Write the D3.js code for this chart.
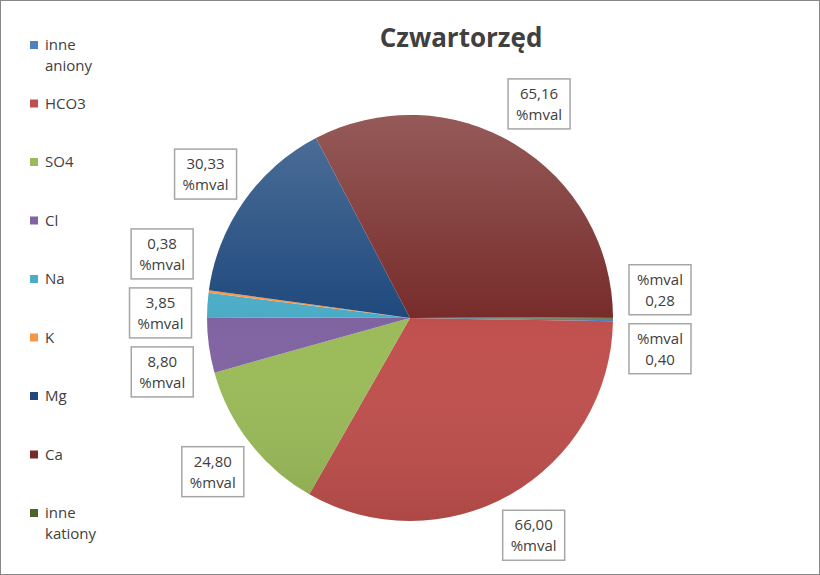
<!DOCTYPE html>
<html><head><meta charset="utf-8">
<script src="https://cdn.jsdelivr.net/npm/d3@7"></script>
<style>body{margin:0;background:#fff}svg{display:block}</style></head>
<body><script>
const categories=["inne aniony","HCO3","SO4","Cl","Na","K","Mg","Ca","inne kationy"];
const values=[0.40,66.00,24.80,8.80,3.85,0.38,30.33,65.16,0.28];
const valueLabels=["0,40","66,00","24,80","8,80","3,85","0,38","30,33","65,16","0,28"];
const colors=["#4f81bd","#c0504d","#9bbb59","#8064a2","#4bacc6","#f79646","#1f497d","#772c2a","#4f6228"];
const legendLines=[["inne","aniony"],["HCO3"],["SO4"],["Cl"],["Na"],["K"],["Mg"],["Ca"],["inne","kationy"]];

const W=820,H=575,cx=410,cy=318,R=203;
const svg=d3.select("body").append("svg").attr("width",W).attr("height",H);
svg.append("rect").attr("x",0.5).attr("y",0.5).attr("width",W-1).attr("height",H-1).attr("fill","#fff").attr("stroke","#888");
const font="'Open Sans','Liberation Sans',sans-serif";
svg.append("text").attr("x",461).attr("y",47).attr("text-anchor","middle").attr("font-family",font)
 .attr("font-size",26).attr("font-weight","bold").attr("fill","#404040").text("Czwartorzęd");

const defs=svg.append("defs");
const g=defs.append("linearGradient").attr("id","shade").attr("x1",0).attr("y1",0).attr("x2",0).attr("y2",1);
g.append("stop").attr("offset","0").attr("stop-color","#fff").attr("stop-opacity",0.22);
g.append("stop").attr("offset","0.5").attr("stop-color","#fff").attr("stop-opacity",0);
g.append("stop").attr("offset","1").attr("stop-color","#000").attr("stop-opacity",0.1);

const start=Math.PI/2+0.004;
const pie=d3.pie().sort(null).value(d=>d).startAngle(start).endAngle(start+2*Math.PI);
const arcs=pie(values);
const arc=d3.arc().innerRadius(0).outerRadius(R);
const pg=svg.append("g").attr("transform",`translate(${cx},${cy})`);
pg.selectAll("path").data(arcs).join("path").attr("d",arc).attr("fill",(d,i)=>colors[i]);
pg.append("circle").attr("r",R).attr("fill","url(#shade)");

// labels
const la=d3.arc().innerRadius(250).outerRadius(250);
let labs=arcs.map((d,i)=>{const c=la.centroid(d);return {i,x:c[0]+cx,y:c[1]+cy,right:c[0]>0};});
for(let it=0;it<100;it++){
 [true,false].forEach(side=>{
  const s=labs.filter(l=>l.right===side).sort((a,b)=>a.y-b.y);
  for(let k=1;k<s.length;k++){const gap=s[k].y-s[k-1].y;if(gap<59){const m=(59-gap)/2;s[k].y+=m;s[k-1].y-=m;}}
 });
}
const lg=svg.append("g");
labs.forEach(l=>{
 const small=values[l.i]<1&&l.right;
 const lines=small?["%mval",valueLabels[l.i]]:[valueLabels[l.i],"%mval"];
 const w=62,h=50;
 lg.append("rect").attr("x",l.x-w/2).attr("y",l.y-h/2).attr("width",w).attr("height",h)
  .attr("fill","#fff").attr("stroke","#a6a6a6").attr("stroke-width",1.5);
 lines.forEach((t,j)=>lg.append("text").attr("x",l.x).attr("y",l.y-5+j*21).attr("text-anchor","middle")
  .attr("font-family",font).attr("font-size",15).attr("fill","#404040").text(t));
});

// legend
const ly=d3.scalePoint().domain(categories).range([45,513]);
const leg=svg.append("g");
categories.forEach((c,i)=>{
 const y=ly(c);
 leg.append("rect").attr("x",30).attr("y",y-4).attr("width",8).attr("height",8).attr("fill",colors[i]);
 legendLines[i].forEach((t,j)=>leg.append("text").attr("x",45).attr("y",y+5+j*21)
  .attr("font-family",font).attr("font-size",15).attr("fill","#404040").text(t));
});
</script></body></html>
